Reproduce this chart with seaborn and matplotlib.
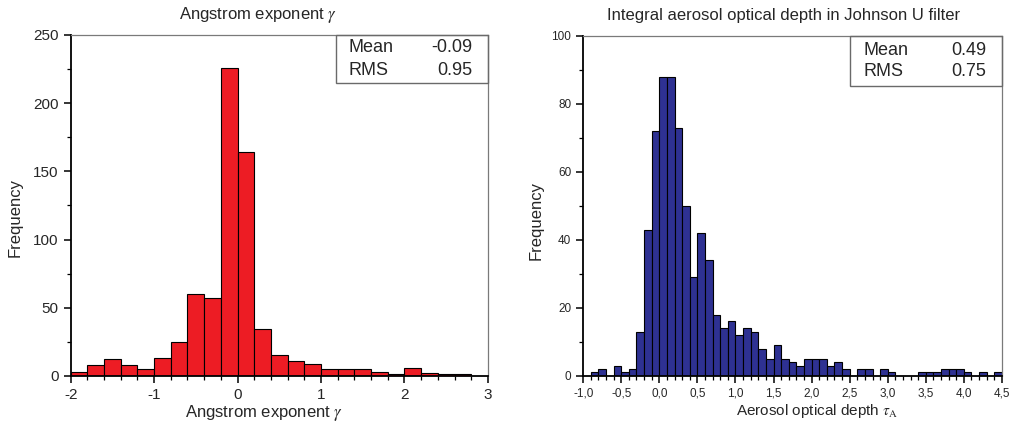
import matplotlib
matplotlib.use("Agg")
import matplotlib.pyplot as plt
from matplotlib.patches import Rectangle
from matplotlib.ticker import MultipleLocator, FuncFormatter
import seaborn as sns

# Angstrom exponent histogram (bin width 0.2, starting at -2.0)
gamma_start = -2.0
gamma_width = 0.2
gamma_counts = [3, 8, 12, 8, 5, 13, 25, 60, 57, 226, 164, 34,
                15, 11, 9, 5, 5, 5, 3, 1, 6, 2, 1, 1]
gamma_stats = [("Mean", "-0.09"), ("RMS", "0.95")]

# aerosol optical depth histogram (bin width 0.1, starting at -1.0)
tau_start = -1.0
tau_width = 0.1
tau_counts = [0, 1, 2, 0, 3, 1, 2, 13, 43, 72,
              88, 88, 73, 50, 29, 42, 34, 18, 14, 16,
              12, 14, 13, 8, 5, 9, 5, 4, 3, 5,
              5, 5, 3, 4, 2, 0, 2, 2, 0, 2,
              1, 0, 0, 0, 1, 1, 1, 2, 2, 2,
              1, 0, 1, 0, 1]
tau_stats = [("Mean", "0.49"), ("RMS", "0.75")]

sns.set_style("ticks")
plt.rcParams["font.family"] = ["Liberation Sans", "DejaVu Sans"]
plt.rcParams["mathtext.fontset"] = "stix"
plt.rcParams["axes.unicode_minus"] = False


def centers(start, width, n):
    return [start + width * (i + 0.5) for i in range(n)]


def style_axes(ax, tick_size):
    for side in ["left", "bottom"]:
        ax.spines[side].set_color("black")
        ax.spines[side].set_linewidth(1.3)
    for side in ["top", "right"]:
        ax.spines[side].set_visible(True)
        ax.spines[side].set_color("#7a7a7a")
        ax.spines[side].set_linewidth(0.9)
    ax.tick_params(which="major", direction="out", length=5, width=1.1,
                   labelsize=tick_size, color="black")
    ax.tick_params(which="minor", direction="out", length=3, width=0.9,
                   color="black")
    ax.tick_params(top=False, right=False, which="both")


def stats_box(ax, rows, x0, y0, xl, xr, ys, size):
    ax.add_patch(Rectangle((x0, y0), 1 - x0, 1 - y0, transform=ax.transAxes,
                           fill=False, edgecolor="#6a6a6a", lw=1.0,
                           clip_on=False, zorder=5))
    for (name, val), y in zip(rows, ys):
        ax.text(xl, y, name, transform=ax.transAxes, fontsize=size,
                ha="left", va="center")
        ax.text(xr, y, val, transform=ax.transAxes, fontsize=size,
                ha="right", va="center")


fig = plt.figure(figsize=(10.09, 4.32), dpi=100)
ax1 = fig.add_axes([0.070, 0.130, 0.4136, 0.789])
ax2 = fig.add_axes([0.578, 0.130, 0.415, 0.787])

# left panel
sns.histplot(x=centers(gamma_start, gamma_width, len(gamma_counts)),
             weights=gamma_counts, binwidth=gamma_width,
             binrange=(gamma_start, gamma_start + gamma_width * len(gamma_counts)),
             color="#ed1c24", edgecolor="black", linewidth=0.8, alpha=1,
             ax=ax1)
ax1.set_xlim(-2, 3)
ax1.set_ylim(0, 250)
ax1.xaxis.set_major_locator(MultipleLocator(1))
ax1.xaxis.set_minor_locator(MultipleLocator(0.2))
ax1.yaxis.set_major_locator(MultipleLocator(50))
ax1.yaxis.set_minor_locator(MultipleLocator(25))
style_axes(ax1, 11)
ax1.set_xlabel(r"Angstrom exponent $\gamma$", fontsize=12, va="center")
ax1.xaxis.set_label_coords(0.463, -0.11)
ax1.set_ylabel("Frequency", fontsize=12, va="center")
ax1.yaxis.set_label_coords(-0.133, 0.466)
ax1.text(0.449, 1.06, r"Angstrom exponent $\gamma$", transform=ax1.transAxes,
         fontsize=12, ha="center", va="center")
stats_box(ax1, gamma_stats, 0.635, 0.858, 0.665, 0.962, [0.962, 0.897], 13)

# right panel
sns.histplot(x=centers(tau_start, tau_width, len(tau_counts)),
             weights=tau_counts, binwidth=tau_width,
             binrange=(tau_start, tau_start + tau_width * len(tau_counts)),
             color="#2e3192", edgecolor="black", linewidth=0.8, alpha=1,
             ax=ax2)
ax2.set_xlim(-1.0, 4.5)
ax2.set_ylim(0, 100)
ax2.xaxis.set_major_locator(MultipleLocator(0.5))
ax2.xaxis.set_minor_locator(MultipleLocator(0.1))
ax2.yaxis.set_major_locator(MultipleLocator(20))
ax2.yaxis.set_minor_locator(MultipleLocator(10))
ax2.xaxis.set_major_formatter(FuncFormatter(lambda v, p: f"{v:.1f}".replace(".", ",")))
style_axes(ax2, 8.5)
ax2.set_xlabel(r"Aerosol optical depth $\tau_{\mathrm{A}}$", fontsize=11, va="center")
ax2.xaxis.set_label_coords(0.559, -0.104)
ax2.set_ylabel("Frequency", fontsize=12, va="center")
ax2.yaxis.set_label_coords(-0.113, 0.458)
ax2.text(0.478, 1.06, "Integral aerosol optical depth in Johnson U filter",
         transform=ax2.transAxes, fontsize=12, ha="center", va="center")
stats_box(ax2, tau_stats, 0.637, 0.852, 0.669, 0.962, [0.958, 0.894], 13)

fig.savefig("out.png", dpi=100)
